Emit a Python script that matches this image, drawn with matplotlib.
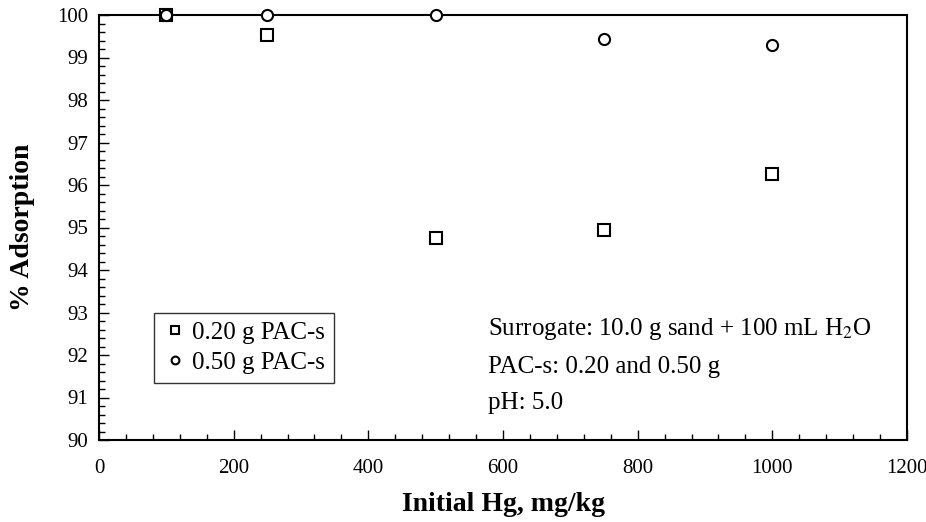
import matplotlib
matplotlib.use("Agg")
import matplotlib.pyplot as plt
from matplotlib.ticker import MultipleLocator

plt.rcParams["font.family"] = ["Liberation Serif", "DejaVu Serif"]
plt.rcParams["mathtext.fontset"] = "stix"

hg = [100, 250, 500, 750, 1000]
pac_020 = [100.0, 99.52, 94.76, 94.95, 96.27]
pac_050 = [100.0, 100.0, 100.0, 99.43, 99.3]

fig = plt.figure(figsize=(9.26, 5.22), dpi=100)
ax = fig.add_axes([99 / 926, 82 / 522, 808 / 926, 425 / 522])

ax.plot(hg, pac_020, linestyle="none", marker="s", markersize=8,
        markerfacecolor="white", markeredgecolor="black", markeredgewidth=1.5,
        label="0.20 g PAC-s", clip_on=False, zorder=3)
ax.plot(hg, pac_050, linestyle="none", marker="o", markersize=8,
        markerfacecolor="white", markeredgecolor="black", markeredgewidth=1.5,
        label="0.50 g PAC-s", clip_on=False, zorder=4)

ax.set_xlim(0, 1200)
ax.set_ylim(90, 100)
ax.xaxis.set_major_locator(MultipleLocator(200))
ax.xaxis.set_minor_locator(MultipleLocator(40))
ax.yaxis.set_major_locator(MultipleLocator(1))
ax.yaxis.set_minor_locator(MultipleLocator(0.2))
ax.tick_params(which="both", direction="in", top=False, right=False, labelsize=15)
ax.tick_params(which="major", length=7, width=1)
ax.tick_params(which="minor", length=4, width=1)
ax.tick_params(axis="x", pad=14)
ax.tick_params(axis="y", pad=8)
for s in ax.spines.values():
    s.set_linewidth(1.5)

ax.set_xlabel("Initial Hg, mg/kg", fontsize=20, fontweight="bold", labelpad=10)
ax.set_ylabel("% Adsorption", fontsize=20, fontweight="bold", labelpad=16)

leg = ax.legend(loc="lower left", bbox_to_anchor=(0.052, 0.105), fontsize=18,
                frameon=True, fancybox=False, edgecolor="black", handletextpad=0.2,
                borderpad=0.35, labelspacing=0.3, handlelength=1.0, markerscale=0.7)
leg.get_frame().set_linewidth(1.0)

ax.text(0.481, 0.261, "Surrogate: 10.0 g sand + 100 mL H$_2$O", transform=ax.transAxes,
        fontsize=18, va="center")
ax.text(0.481, 0.172, "PAC-s: 0.20 and 0.50 g", transform=ax.transAxes,
        fontsize=18, va="center")
ax.text(0.481, 0.087, "pH: 5.0", transform=ax.transAxes, fontsize=18, va="center")

fig.savefig("out.png", dpi=100)
